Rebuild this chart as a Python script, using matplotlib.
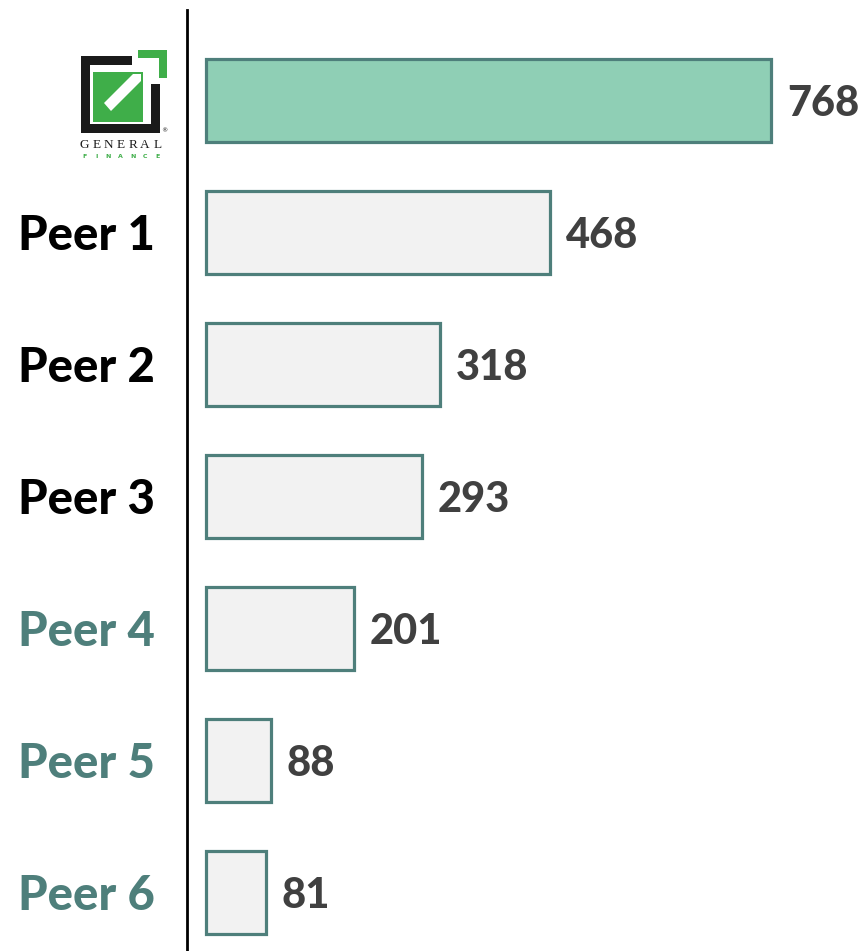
import matplotlib
matplotlib.use("Agg")
import matplotlib.pyplot as plt
from matplotlib.patches import Rectangle, Polygon

categories = ["General Finance", "Peer 1", "Peer 2", "Peer 3", "Peer 4", "Peer 5", "Peer 6"]
values = [768, 468, 318, 293, 201, 88, 81]
label_colors = [None, "#000000", "#000000", "#000000", "#4e7f7b", "#4e7f7b", "#4e7f7b"]
fill_colors = ["#8fcfb5", "#f2f2f2", "#f2f2f2", "#f2f2f2", "#f2f2f2", "#f2f2f2", "#f2f2f2"]
edge_color = "#4e7f7b"

W, H = 863, 951
fig = plt.figure(figsize=(W / 100, H / 100), dpi=100)

# main axes: spine at x=187, top at y=10
ax = fig.add_axes([187 / W, 0, (W - 187) / W, (H - 10) / H])
px_per_unit = (771 - 206) / 768
x0 = -(206 - 187) / px_per_unit
x1 = (W - 206) / px_per_unit
ax.set_xlim(x0, x1)
ax.set_ylim((951 - 100.5) / 132, (10 - 100.5) / 132)

ypos = list(range(len(values)))
ax.barh(ypos, values, height=0.63, color=fill_colors, edgecolor=edge_color, linewidth=2.3)

dy = 4 / 132
for y, v in zip(ypos, values):
    ax.text(v + 16 / px_per_unit, y + dy, str(v), ha="left", va="center",
            fontsize=30, fontweight=900, color="#404040", family="Lato")

for y, name, c in zip(ypos, categories, label_colors):
    if c is None:
        continue
    ax.text(-(206 - 155) / px_per_unit, y + dy, name, ha="right", va="center",
            fontsize=34, fontweight=900, color=c, family="Lato")

for s in ["top", "right", "bottom"]:
    ax.spines[s].set_visible(False)
ax.spines["left"].set_linewidth(2)
ax.spines["left"].set_color("black")
ax.set_xticks([])
ax.set_yticks([])

# logo overlay in pixel coordinates
lx = fig.add_axes([0, 0, 1, 1], facecolor="none")
lx.set_xlim(0, W)
lx.set_ylim(H, 0)
lx.axis("off")
green = "#3fae49"
black = "#1a1a1a"
for (x, y, w, h, c) in [
    (81, 56, 9, 77, black), (81, 124, 79, 9, black), (151, 84, 9, 49, black), (81, 56, 51, 9, black),
    (138, 50, 29, 8, green), (159, 50, 8, 28, green), (93, 72, 50, 50, green)]:
    lx.add_patch(Rectangle((x, y), w, h, facecolor=c, edgecolor="none"))
lx.add_patch(Polygon([(104, 103), (133, 74), (141, 74), (141, 81), (111, 111)],
                     closed=True, facecolor="white", edgecolor="none"))
for i, ch in enumerate("GENERAL"):
    lx.text(84 + i * 12.2, 145, ch, ha="center", va="center", fontsize=9.5,
            family="Liberation Serif", color=black)
for i, ch in enumerate("FINANCE"):
    lx.text(84 + i * 12.2, 157, ch, ha="center", va="center", fontsize=4.5,
            fontweight="bold", family="DejaVu Sans", color=green)
lx.text(164, 131, "®", ha="center", va="center", fontsize=4.5, color=black)

fig.savefig("out.png", dpi=100)
